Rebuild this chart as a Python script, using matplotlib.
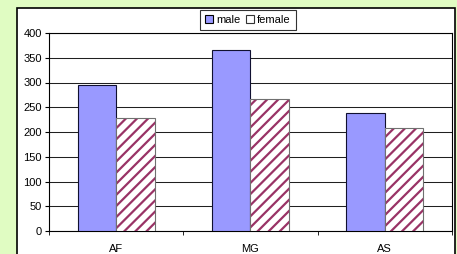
import numpy as np
import matplotlib.pyplot as plt
from matplotlib.patches import Rectangle, Patch

plt.rcParams['font.family'] = ['Liberation Sans', 'DejaVu Sans']
plt.rcParams['hatch.linewidth'] = 1.6

# dane
kategorie = ['AF', 'MG', 'AS']
male = [295, 366, 238]
female = [228, 267, 208]

fig = plt.figure(figsize=(4.57, 2.54), dpi=100)
fig.patch.set_facecolor('#e0fcc2')

# biały panel
fig.patches.append(Rectangle((17 / 457, -0.05), (455 - 17) / 457, 1 - 8 / 254 + 0.05,
                             transform=fig.transFigure, facecolor='white',
                             edgecolor='black', lw=1.2, zorder=-5))

ax = fig.add_axes([49 / 457, 23 / 254, (452 - 49) / 457, (231 - 33) / 254])
ax.set_facecolor('white')

x = np.arange(len(kategorie))
w = 0.287
ax.bar(x - w / 2, male, w, color='#9999ff', edgecolor='#101030', lw=0.8, zorder=3)
ax.bar(x + w / 2, female, w, color='white', edgecolor='#993366', hatch='///', lw=0, zorder=3)
ax.bar(x + w / 2, female, w, fill=False, edgecolor='#707070', lw=0.8, zorder=4)

ax.set_xlim(-0.5, 2.5)
ax.set_ylim(0, 400)
ax.set_yticks(np.arange(0, 401, 50))
ax.set_xticks(x)
ax.set_xticklabels(kategorie)
ax.set_xticks([-0.5, 0.5, 1.5, 2.5], minor=True)
ax.tick_params(axis='x', which='major', length=0, pad=9, labelsize=8)
ax.tick_params(axis='x', which='minor', length=3, direction='out')
ax.tick_params(axis='y', length=3, direction='out', labelsize=8, pad=2)
ax.yaxis.grid(True, color='#202020', lw=0.75, zorder=0)
ax.set_axisbelow(True)
for s in ax.spines.values():
    s.set_color('black')
    s.set_linewidth(0.8)

uchwyty = [Patch(facecolor='#9999ff', edgecolor='black', lw=0.8, label='male'),
           Patch(facecolor='white', edgecolor='#333333', lw=0.8, label='female')]
leg = fig.legend(handles=uchwyty, loc='upper left', bbox_to_anchor=(200 / 457, 1 - 10 / 254),
                 ncol=2, fontsize=8, frameon=True, fancybox=False, edgecolor='black',
                 handlelength=0.7, handleheight=0.7, handletextpad=0.3, columnspacing=0.5,
                 borderpad=0.45, borderaxespad=0)
leg.get_frame().set_linewidth(0.8)

fig.savefig('out.png', dpi=100, facecolor=fig.get_facecolor())
